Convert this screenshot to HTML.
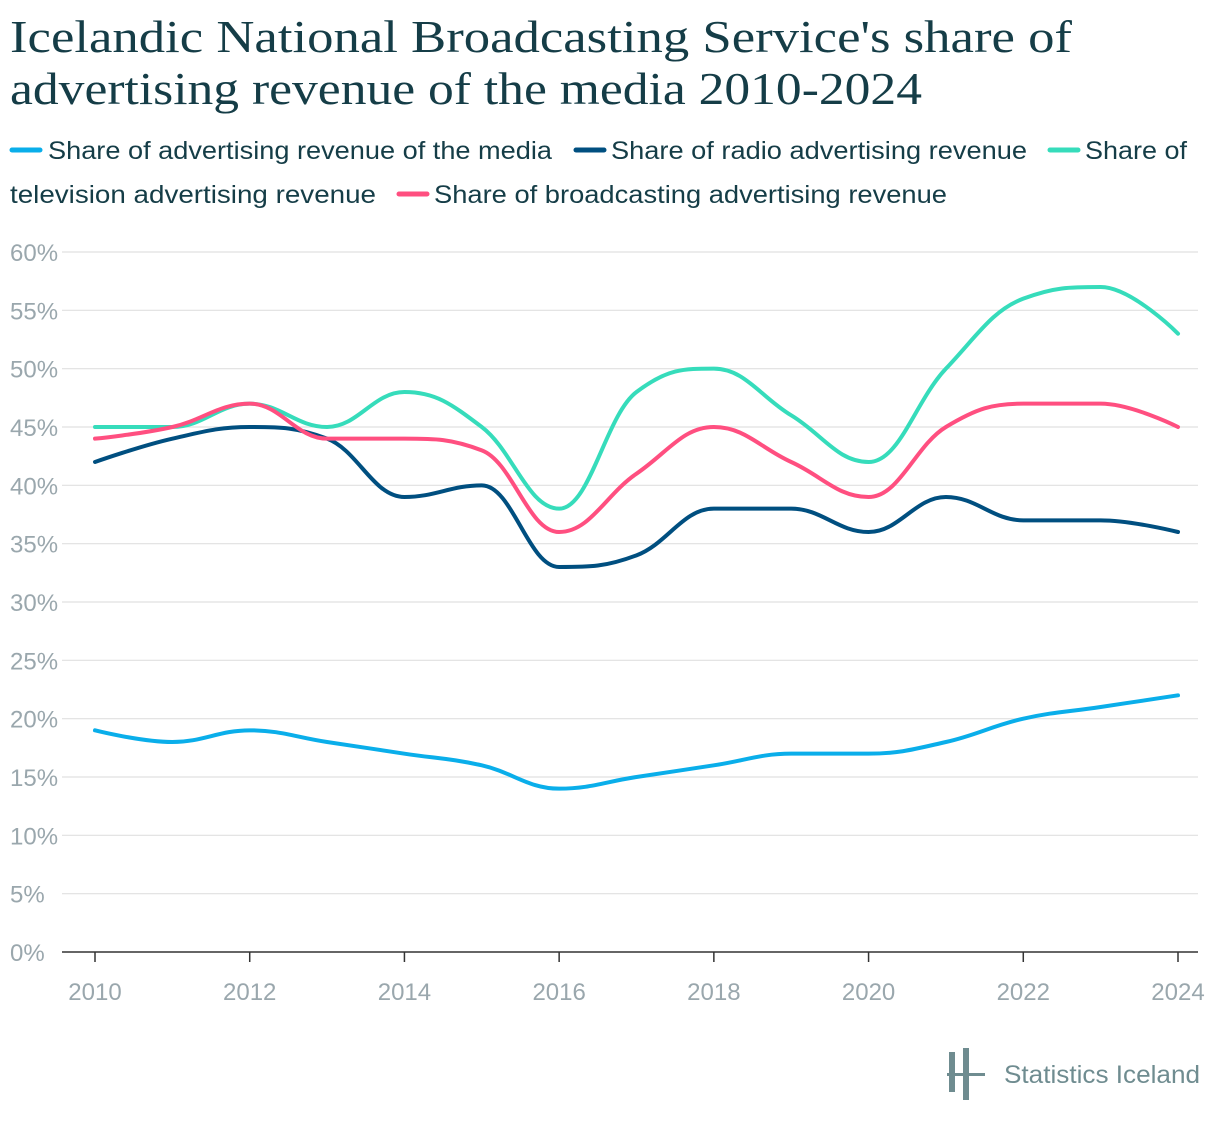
<!DOCTYPE html>
<html><head><meta charset="utf-8"><style>
html,body{margin:0;padding:0;background:#fff;}
svg{display:block;}
</style></head><body>
<svg id="chart" width="1220" height="1124" xmlns="http://www.w3.org/2000/svg">
<g font-family="Liberation Serif, serif" fill="#153d47" font-size="46">
<text x="10" y="52" textLength="1062" lengthAdjust="spacingAndGlyphs">Icelandic National Broadcasting Service's share of</text>
<text x="10" y="104" textLength="912" lengthAdjust="spacingAndGlyphs">advertising revenue of the media 2010-2024</text>
</g>
<g id="legend" font-family="Liberation Sans, sans-serif" fill="#153d47" font-size="25"></g>
<g id="grid"></g><g id="axes" font-family="Liberation Sans, sans-serif" font-size="24" fill="#9aa7ad"></g>
<g id="series"></g>
<g>
<rect x="949" y="1052" width="6" height="40" fill="#6f8c90"/>
<rect x="963" y="1048" width="6" height="52" fill="#6f8c90"/>
<rect x="947" y="1073" width="38" height="3" fill="#6f8c90"/>
<text x="1004" y="1083" font-family="Liberation Sans, sans-serif" font-size="25" fill="#6f8c90" textLength="196" lengthAdjust="spacingAndGlyphs">Statistics Iceland</text>
</g>
</svg>
<script>
const years=[2010,2011,2012,2013,2014,2015,2016,2017,2018,2019,2020,2021,2022,2023,2024];
const media=[19,18,19,18,17,16,14,15,16,17,17,18,20,21,22];
const radio=[42,44,45,44,39,40,33,34,38,38,36,39,37,37,36];
const tv=[45,45,47,45,48,45,38,48,50,46,42,50,56,57,53];
const broadcast=[44,45,47,44,44,43,36,41,45,42,39,45,47,47,45];
const yTicks=[0,5,10,15,20,25,30,35,40,45,50,55,60];
const xTicks=[2010,2012,2014,2016,2018,2020,2022,2024];
const NS="http://www.w3.org/2000/svg";
const x=v=>95+(v-2010)*(1178-95)/14;
const y=v=>952-v*(952-252)/60;
function mk(t,a,p){const e=document.createElementNS(NS,t);for(const k in a)e.setAttribute(k,a[k]);p.appendChild(e);return e;}
const grid=document.getElementById('grid'),axes=document.getElementById('axes'),ser=document.getElementById('series'),leg=document.getElementById('legend');
yTicks.forEach(t=>{
 const l=mk('line',{x1:62,x2:1198,y1:y(t),y2:y(t),stroke:t===0?'#333':'#e0e0e0','stroke-width':t===0?1.5:1.2},grid);
 
 
 const tx=mk('text',{x:10,y:y(t)+9},axes);tx.textContent=t+'%';
 
 
});
xTicks.forEach(t=>{
 const l=mk('line',{x1:x(t),x2:x(t),y1:952,y2:962,stroke:'#333','stroke-width':1.5},grid);
 
 
 const tx=mk('text',{x:x(t),y:1000,'text-anchor':'middle'},axes);tx.textContent=t;
 
 
});
function path(vals){
 const P=vals.map((v,i)=>[x(years[i]),y(v)]);const s=1.5;
 let d='M'+P[0][0]+' '+P[0][1];
 const cp=i=>{ if(i===0||i===P.length-1)return [P[i],P[i]];
  const [px,py]=P[i-1],[cx,cy]=P[i],[nx,ny]=P[i+1];
  let lx=(s*cx+px)/(s+1),ly=(s*cy+py)/(s+1),rx=(s*cx+nx)/(s+1),ry=(s*cy+ny)/(s+1);
  if(lx!==rx){const c=((ry-ly)*(rx-cx))/(rx-lx)+cy-ry;ly+=c;ry+=c;}
  if(ly>py&&ly>cy){ly=Math.max(py,cy);ry=2*cy-ly;}else if(ly<py&&ly<cy){ly=Math.min(py,cy);ry=2*cy-ly;}
  if(ry>ny&&ry>cy){ry=Math.max(ny,cy);ly=2*cy-ry;}else if(ry<ny&&ry<cy){ry=Math.min(ny,cy);ly=2*cy-ry;}
  return [[lx,ly],[rx,ry]];};
 for(let i=1;i<P.length;i++){const a=cp(i-1)[1],b=cp(i)[0];d+=` C${a[0]} ${a[1]} ${b[0]} ${b[1]} ${P[i][0]} ${P[i][1]}`;}
 return d;}
const S=[[media,'#0aaeea','series-media'],[radio,'#004f80','series-radio'],[tv,'#36dcbb','series-television'],[broadcast,'#ff4f80','series-broadcasting']];
S.forEach(([v,c,n])=>{const p=mk('path',{d:path(v),fill:'none',stroke:c,'stroke-width':4,'stroke-linecap':'round','stroke-linejoin':'round'},ser);
 
 });
const L=[[10,150,48,504,'#0aaeea','Share of advertising revenue of the media'],[574,150,611,416,'#004f80','Share of radio advertising revenue'],
[1048,150,1085,102,'#36dcbb','Share of'],[10,194,10,366,null,'television advertising revenue'],[397,194,434,513,'#ff4f80','Share of broadcasting advertising revenue']];
L.forEach(([sx,yy,tx,w,c,t])=>{
 if(c){const r=mk('line',{x1:sx+2,x2:sx+30,y1:yy,y2:yy,stroke:c,'stroke-width':5,'stroke-linecap':'round'},leg);
  
  }
 const e=mk('text',{x:tx,y:yy+9,textLength:w,lengthAdjust:'spacingAndGlyphs'},leg);e.textContent=t;
 
 
});
</script>
</body></html>
